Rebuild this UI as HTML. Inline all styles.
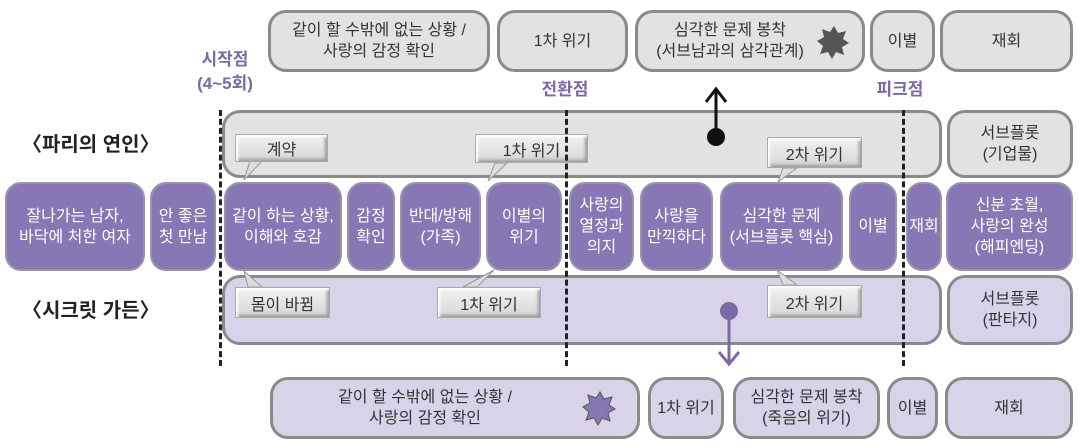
<!DOCTYPE html>
<html><head><meta charset="utf-8"><style>
body{margin:0;width:1079px;height:444px;background:#fff;position:relative;overflow:hidden;font-family:"Liberation Sans","Noto Sans CJK KR",sans-serif;}
.b{position:absolute;box-sizing:border-box;display:flex;align-items:center;justify-content:center;text-align:center;font-size:16px;line-height:21px;color:#333;}
.g{background:#e2e2e2;border:3px solid #8a8a8a;border-radius:18px;}
.l{background:#d9d3e9;border:3px solid #8a8a8a;border-radius:18px;}
.p{background:#8777b4;border:2px solid #9a94a8;border-radius:16px;color:#fff;}
.c{position:absolute;box-sizing:border-box;display:flex;align-items:center;justify-content:center;font-size:16px;color:#333;background:linear-gradient(#f2f2f2,#d6d6d6);border:1px solid #aaa;box-shadow:inset 2px 2px 2px #fff,inset -2px -2px 3px #999;}
.t{position:absolute;font-weight:bold;color:#7a6aa6;font-size:17px;line-height:24px;text-align:center;}
.h{position:absolute;font-weight:bold;font-size:20px;color:#222;}
.d{position:absolute;width:0;border-left:3px dashed #222;}
</style></head><body>
<div class="b g" style="left:268px;top:10px;width:222px;height:62px">같이 할 수밖에 없는 상황 /<br>사랑의 감정 확인</div>
<div class="b g" style="left:497px;top:10px;width:131px;height:62px">1차 위기</div>
<div class="b g" style="left:635px;top:10px;width:230px;height:62px;padding-right:40px">심각한 문제 봉착<br>(서브남과의 삼각관계)</div>
<div class="b g" style="left:870px;top:10px;width:65px;height:62px">이별</div>
<div class="b g" style="left:940px;top:10px;width:133px;height:62px">재회</div>
<svg style="position:absolute;left:0;top:0" width="1079" height="444">
<polygon points="834,26 838,33 846,31 843,39 849,43 842,47 844,55 836,52 832,59 828,52 820,54 823,46 817,41 824,37 822,29 830,32" fill="#555"/>
</svg>
<div class="t" style="left:190px;top:48px;width:70px">시작점<br>(4~5회)</div>
<div class="t" style="left:530px;top:78px;width:70px">전환점</div>
<div class="t" style="left:865px;top:78px;width:70px">피크점</div>
<div class="b g" style="left:222px;top:110px;width:720px;height:68px"></div>
<div class="b g" style="left:947px;top:110px;width:126px;height:68px">서브플롯<br>(기업물)</div>
<div class="h" style="left:22px;top:128px">〈파리의 연인〉</div>
<div class="h" style="left:22px;top:294px">〈시크릿 가든〉</div>
<div class="b l" style="left:222px;top:275px;width:720px;height:70px"></div>
<div class="b l" style="left:947px;top:275px;width:126px;height:70px">서브플롯<br>(판타지)</div>
<svg style="position:absolute;left:0;top:0" width="1079" height="444">
<polygon points="250,161 262,161 244,180" fill="#ddd" stroke="#999"/>
<polygon points="495,163 507,163 488,181" fill="#ddd" stroke="#999"/>
<polygon points="783,168 797,168 778,182" fill="#ddd" stroke="#999"/>
<polygon points="248,287 262,287 244,271" fill="#ddd" stroke="#999"/>
<polygon points="463,287 477,287 494,270" fill="#ddd" stroke="#999"/>
<polygon points="783,285 797,285 777,270" fill="#ddd" stroke="#999"/>
<line x1="716" y1="136" x2="716" y2="90" stroke="#111" stroke-width="3"/>
<polyline points="706,102 716,89 726,102" fill="none" stroke="#111" stroke-width="3"/>
<circle cx="716" cy="137" r="9" fill="#111"/>
<line x1="729" y1="311" x2="729" y2="364" stroke="#7a6aa6" stroke-width="3"/>
<polyline points="719,352 729,364 739,352" fill="none" stroke="#7a6aa6" stroke-width="3"/>
<circle cx="729" cy="311" r="9" fill="#7a6aa6"/>
</svg>
<div class="c" style="left:235px;top:134px;width:93px;height:28px">계약</div>
<div class="c" style="left:475px;top:134px;width:113px;height:29px">1차 위기</div>
<div class="c" style="left:767px;top:137px;width:95px;height:31px">2차 위기</div>
<div class="c" style="left:235px;top:287px;width:95px;height:31px">몸이 바뀜</div>
<div class="c" style="left:437px;top:287px;width:104px;height:31px">1차 위기</div>
<div class="c" style="left:767px;top:285px;width:95px;height:33px">2차 위기</div>
<div class="b p" style="left:5px;top:182px;width:140px;height:89px">잘나가는 남자,<br>바닥에 처한 여자</div>
<div class="b p" style="left:150px;top:182px;width:66px;height:89px">안 좋은<br>첫 만남</div>
<div class="b p" style="left:224px;top:182px;width:118px;height:89px">같이 하는 상황,<br>이해와 호감</div>
<div class="b p" style="left:347px;top:182px;width:48px;height:89px">감정<br>확인</div>
<div class="b p" style="left:400px;top:182px;width:81px;height:89px">반대/방해<br>(가족)</div>
<div class="b p" style="left:486px;top:182px;width:76px;height:89px">이별의<br>위기</div>
<div class="b p" style="left:569px;top:182px;width:65px;height:89px">사랑의<br>열정과<br>의지</div>
<div class="b p" style="left:640px;top:182px;width:73px;height:89px">사랑을<br>만끽하다</div>
<div class="b p" style="left:720px;top:182px;width:123px;height:89px">심각한 문제<br>(서브플롯 핵심)</div>
<div class="b p" style="left:849px;top:182px;width:48px;height:89px">이별</div>
<div class="b p" style="left:906px;top:182px;width:36px;height:89px">재회</div>
<div class="b p" style="left:946px;top:182px;width:127px;height:89px">신분 초월,<br>사랑의 완성<br>(해피엔딩)</div>
<div class="d" style="left:219px;top:110px;height:256px"></div>
<div class="d" style="left:565px;top:110px;height:256px"></div>
<div class="d" style="left:902px;top:110px;height:256px"></div>
<div class="b l" style="left:270px;top:377px;width:370px;height:62px;padding-right:60px">같이 할 수밖에 없는 상황 /<br>사랑의 감정 확인</div>
<div class="b l" style="left:648px;top:377px;width:76px;height:62px">1차 위기</div>
<div class="b l" style="left:733px;top:377px;width:147px;height:62px">심각한 문제 봉착<br>(죽음의 위기)</div>
<div class="b l" style="left:887px;top:377px;width:51px;height:62px">이별</div>
<div class="b l" style="left:945px;top:377px;width:128px;height:62px">재회</div>
<svg style="position:absolute;left:0;top:0" width="1079" height="444">
<polygon points="600,392 604,399 612,397 609,405 615,409 608,413 610,421 602,418 598,425 594,418 586,420 589,412 583,407 590,403 588,395 596,398" fill="#8777b4" stroke="#555" stroke-width="1"/>
</svg>
</body></html>
